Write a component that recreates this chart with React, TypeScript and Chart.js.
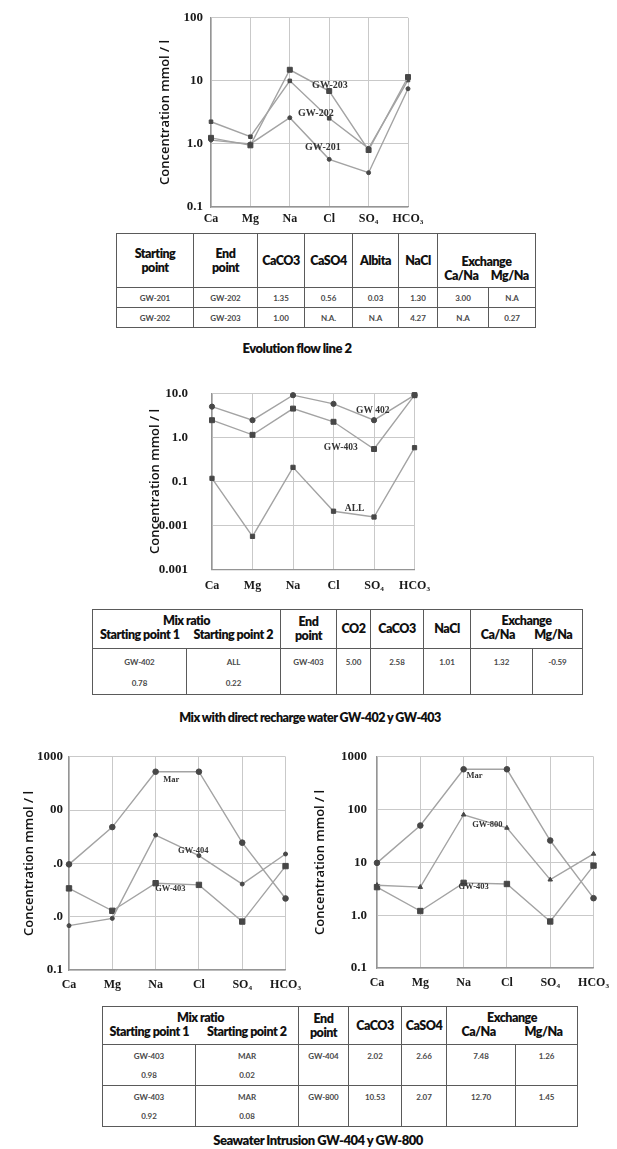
import React, { useEffect, useRef } from 'react';
import { Chart, registerables } from 'chart.js';
Chart.register(...registerables);

// ---------- data ----------
const IONS = ['Ca', 'Mg', 'Na', 'Cl', 'SO₄', 'HCO₃'];

// Evolution flow line 2
const GW203_A = [1.25, 0.95, 15, 6.9, 0.8, 11.5];
const GW202_A = [2.25, 1.3, 10, 2.55, 0.85, 10.3];
const GW201_A = [1.15, 1.0, 2.6, 0.57, 0.35, 7.5];
const TICKS_A = [0.1, 1, 10, 100];
const TICKTEXT_A = ['0.1', '1.0', '10', '100'];

// Mix with direct recharge water
const GW402_B = [5.1, 2.5, 9.3, 5.9, 2.5, 9.3];
const GW403_B = [2.5, 1.16, 4.6, 2.3, 0.55, 9.3];
const ALL_B = [0.118, 0.0056, 0.21, 0.021, 0.0155, 0.59];
const TICKS_B = [0.001, 0.01, 0.1, 1, 10];
const TICKTEXT_B = ['0.001', '0.001', '0.1', '1.0', '10.0'];

// Seawater intrusion GW-404
const MAR_C = [9.6, 48, 525, 525, 24.5, 2.2];
const GW404_C = [0.68, 0.93, 34, 14, 4.1, 15];
const GW403_C = [3.4, 1.29, 4.25, 3.95, 0.81, 8.9];
const TICKS_C = [0.1, 1, 10, 100, 1000];
const TICKTEXT_C = ['0.1', '.0', '.0', '00', '1000'];

// Seawater intrusion GW-800
const MAR_D = [9.8, 50, 580, 580, 26, 2.1];
const GW800_D = [3.7, 3.4, 80, 45, 4.7, 14.5];
const GW403_D = [3.4, 1.2, 4.1, 3.9, 0.76, 8.7];
const TICKS_D = [0.1, 1, 10, 100, 1000];
const TICKTEXT_D = ['0.1', '1.0', '10', '100', '1000'];

// tables
const T1_HEAD = ['Starting|point', 'End|point', 'CaCO3', 'CaSO4', 'Albita', 'NaCl'];
const T1_ROWS = [
  ['GW-201', 'GW-202', '1.35', '0.56', '0.03', '1.30', '3.00', 'N.A'],
  ['GW-202', 'GW-203', '1.00', 'N.A.', 'N.A', '4.27', 'N.A', '0.27'],
];
const T2_HEAD = ['End|point', 'CO2', 'CaCO3', 'NaCl'];
const T2_ROWS = [
  [['GW-402', '0.78'], ['ALL', '0.22'], ['GW-403'], ['5.00'], ['2.58'], ['1.01'], ['1.32'], ['-0.59']],
];
const T3_HEAD = ['End|point', 'CaCO3', 'CaSO4'];
const T3_ROWS = [
  [['GW-403', '0.98'], ['MAR', '0.02'], ['GW-404'], ['2.02'], ['2.66'], ['7.48'], ['1.26']],
  [['GW-403', '0.92'], ['MAR', '0.08'], ['GW-800'], ['10.53'], ['2.07'], ['12.70'], ['1.45']],
];

// ---------- styles ----------
const LINE = '#a3a3a3';
const MARK = '#474747';
const GRID = '#c9c9c9';
const AXIS = '#959595';
const SERIF = "'Liberation Serif', 'DejaVu Serif', serif";
const SANS = "'Open Sans', 'Noto Sans', sans-serif";
const TSANS = "Lato, 'Open Sans', sans-serif";

type Series = { data: number[]; style: string; radius: number };
type Note = { text: string; at: number; value: number };
type Props = {
  left: number; top: number; width: number; height: number;
  yW: number; padTop: number; padRight: number; xH: number; xPad: number; yPad: number;
  min: number; max: number; ticks: number[]; tickText: string[];
  series: Series[]; notes: Note[]; noteSize: number;
};

function LogChart(p: Props) {
  const ref = useRef<HTMLCanvasElement>(null);
  useEffect(() => {
    const notePlugin = {
      id: 'notes',
      afterDatasetsDraw(chart: any) {
        const ctx = chart.ctx;
        const xs = chart.scales.x;
        const ys = chart.scales.y;
        ctx.save();
        ctx.font = `bold ${p.noteSize}px ${SERIF}`;
        ctx.fillStyle = '#333';
        ctx.textAlign = 'center';
        ctx.textBaseline = 'middle';
        p.notes.forEach((n) => {
          ctx.fillText(n.text, xs.getPixelForValue(n.at), ys.getPixelForValue(n.value));
        });
        ctx.restore();
      },
    };
    const chart = new Chart(ref.current as HTMLCanvasElement, {
      type: 'line',
      data: {
        labels: IONS,
        datasets: p.series.map((s) => ({
          data: s.data,
          borderColor: LINE,
          borderWidth: 1.4,
          pointStyle: s.style as any,
          pointRadius: s.radius,
          pointBackgroundColor: MARK,
          pointBorderColor: MARK,
          pointBorderWidth: 1,
          tension: 0,
          clip: false as any,
        })),
      },
      options: {
        responsive: false,
        maintainAspectRatio: false,
        animation: false,
        layout: { padding: { top: p.padTop, right: p.padRight, left: 0, bottom: 0 } },
        plugins: { legend: { display: false }, tooltip: { enabled: false } },
        scales: {
          x: {
            type: 'category',
            offset: false,
            grid: { color: GRID, drawTicks: false, lineWidth: 1 },
            border: { color: AXIS, width: 1.3 },
            ticks: {
              padding: p.xPad,
              color: '#1a1a1a',
              autoSkip: false,
              maxRotation: 0,
              font: { family: SERIF, weight: 'bold', size: 12 },
            },
            afterFit: (s: any) => { s.height = p.xH; },
          },
          y: {
            type: 'logarithmic',
            min: p.min,
            max: p.max,
            afterBuildTicks: (s: any) => { s.ticks = p.ticks.map((v) => ({ value: v })); },
            grid: { color: GRID, drawTicks: false, lineWidth: 1 },
            border: { color: AXIS, width: 1.3 },
            ticks: {
              padding: p.yPad,
              color: '#1a1a1a',
              font: { family: SERIF, weight: 'bold', size: 13 },
              callback: (v: any) => {
                const i = p.ticks.findIndex((t) => Math.abs(t - Number(v)) < t * 1e-6);
                return i >= 0 ? p.tickText[i] : '';
              },
            },
            title: {
              display: true,
              text: 'Concentration mmol / l',
              color: '#111',
              font: { family: SANS, size: 13, weight: '600' },
              padding: { top: 12, bottom: 0 },
            },
            afterFit: (s: any) => { s.width = p.yW; },
          },
        },
      } as any,
      plugins: [notePlugin],
    });
    return () => chart.destroy();
  }, []);
  return (
    <canvas
      ref={ref}
      width={p.width}
      height={p.height}
      style={{ position: 'absolute', left: p.left, top: p.top, width: p.width, height: p.height }}
    />
  );
}

// ---------- tables ----------
const BORDER = '1.5px solid #5a5a5a';
const headFont: React.CSSProperties = {
  fontFamily: TSANS, fontWeight: 800, fontSize: 12.5, letterSpacing: -0.5, color: '#111', lineHeight: '14px',
};
const dataFont: React.CSSProperties = {
  fontFamily: TSANS, fontWeight: 700, fontSize: 8, color: '#4a4a4a', letterSpacing: -0.1,
};
const cell: React.CSSProperties = { border: BORDER, padding: 0, textAlign: 'center', overflow: 'hidden' };

function Lines({ text }: { text: string }) {
  const parts = text.split('|');
  return <>{parts.map((t, i) => <div key={i}>{t}</div>)}</>;
}

function Exchange({ top }: { top: number }) {
  return (
    <div style={{ paddingTop: top }}>
      <div>Exchange</div>
      <div style={{ display: 'flex', justifyContent: 'space-around' }}>
        <span>Ca/Na</span>
        <span>Mg/Na</span>
      </div>
    </div>
  );
}

function Table1() {
  const widths = [77, 64, 47, 48, 46, 39, 51, 47];
  return (
    <table style={{ position: 'absolute', left: 116, top: 233, borderCollapse: 'collapse', tableLayout: 'fixed', width: 419 }}>
      <colgroup>{widths.map((w, i) => <col key={i} style={{ width: w }} />)}</colgroup>
      <tbody>
        <tr style={{ height: 54 }}>
          {T1_HEAD.map((h, i) => (
            <td key={i} style={{ ...cell, ...headFont }}><Lines text={h} /></td>
          ))}
          <td colSpan={2} style={{ ...cell, ...headFont, verticalAlign: 'top' }}><Exchange top={21} /></td>
        </tr>
        {T1_ROWS.map((r, ri) => (
          <tr key={ri} style={{ height: 20 }}>
            {r.map((c, ci) => <td key={ci} style={{ ...cell, ...dataFont }}>{c}</td>)}
          </tr>
        ))}
      </tbody>
    </table>
  );
}

function MixHead({ w1, w2, top }: { w1: number; w2: number; top: number }) {
  return (
    <div style={{ paddingTop: top }}>
      <div>Mix ratio</div>
      <div style={{ display: 'flex' }}>
        <span style={{ width: w1, textAlign: 'center', whiteSpace: 'nowrap' }}>Starting point 1</span>
        <span style={{ width: w2, textAlign: 'center', whiteSpace: 'nowrap' }}>Starting point 2</span>
      </div>
    </div>
  );
}

function DataCell({ lines, pad, gap }: { lines: string[]; pad: number; gap: number }) {
  return (
    <td style={{ ...cell, ...dataFont, verticalAlign: 'top' }}>
      <div style={{ paddingTop: pad, lineHeight: `${gap}px` }}>
        {lines.map((l, i) => <div key={i}>{l}</div>)}
      </div>
    </td>
  );
}

function Table2() {
  const widths = [94, 94, 56, 34, 53, 47, 62, 50];
  return (
    <table style={{ position: 'absolute', left: 92, top: 609, borderCollapse: 'collapse', tableLayout: 'fixed', width: 490 }}>
      <colgroup>{widths.map((w, i) => <col key={i} style={{ width: w }} />)}</colgroup>
      <tbody>
        <tr style={{ height: 39 }}>
          <td colSpan={2} style={{ ...cell, ...headFont, verticalAlign: 'top' }}><MixHead w1={94} w2={94} top={4} /></td>
          {T2_HEAD.map((h, i) => (
            <td key={i} style={{ ...cell, ...headFont }}><Lines text={h} /></td>
          ))}
          <td colSpan={2} style={{ ...cell, ...headFont, verticalAlign: 'top' }}><Exchange top={4} /></td>
        </tr>
        {T2_ROWS.map((r, ri) => (
          <tr key={ri} style={{ height: 43 }}>
            {r.map((c, ci) => <DataCell key={ci} lines={c} pad={3} gap={21} />)}
          </tr>
        ))}
      </tbody>
    </table>
  );
}

function Table3() {
  const widths = [93, 103, 50, 53, 45, 69, 62];
  return (
    <table style={{ position: 'absolute', left: 102, top: 1006, borderCollapse: 'collapse', tableLayout: 'fixed', width: 475 }}>
      <colgroup>{widths.map((w, i) => <col key={i} style={{ width: w }} />)}</colgroup>
      <tbody>
        <tr style={{ height: 38 }}>
          <td colSpan={2} style={{ ...cell, ...headFont, verticalAlign: 'top' }}><MixHead w1={93} w2={103} top={4} /></td>
          {T3_HEAD.map((h, i) => (
            <td key={i} style={{ ...cell, ...headFont }}><Lines text={h} /></td>
          ))}
          <td colSpan={2} style={{ ...cell, ...headFont, verticalAlign: 'top' }}><Exchange top={4} /></td>
        </tr>
        {T3_ROWS.map((r, ri) => (
          <tr key={ri} style={{ height: 37 }}>
            {r.map((c, ci) => <DataCell key={ci} lines={c} pad={2} gap={19} />)}
          </tr>
        ))}
      </tbody>
    </table>
  );
}

function Caption({ text, cx, cy, size }: { text: string; cx: number; cy: number; size: number }) {
  return (
    <div style={{
      position: 'absolute', left: cx - 200, top: cy - 10, width: 400, height: 20, lineHeight: '20px',
      textAlign: 'center', fontFamily: TSANS, fontWeight: 800, fontSize: size, letterSpacing: -0.5, color: '#111',
      whiteSpace: 'nowrap',
    }}>{text}</div>
  );
}

export default function App() {
  return (
    <div style={{ position: 'absolute', left: 0, top: 0, width: 617, height: 1149, background: '#fff', overflow: 'hidden' }}>
      <LogChart
        left={145} top={2} width={288} height={227} yW={66} padTop={10} padRight={25} xH={22} xPad={5} yPad={8}
        min={0.1} max={100} ticks={TICKS_A} tickText={TICKTEXT_A}
        series={[
          { data: GW203_A, style: 'rect', radius: 3.5 },
          { data: GW202_A, style: 'rect', radius: 2.5 },
          { data: GW201_A, style: 'circle', radius: 2 },
        ]}
        notes={[
          { text: 'GW-203', at: 3.02, value: 8.4 },
          { text: 'GW-202', at: 2.66, value: 3.1 },
          { text: 'GW-201', at: 2.84, value: 0.87 },
        ]}
        noteSize={10}
      />
      <Table1 />
      <Caption text="Evolution flow line 2" cx={297} cy={348} size={13} />

      <LogChart
        left={135} top={362} width={305} height={239} yW={77} padTop={10} padRight={25} xH={24} xPad={10} yPad={24}
        min={0.001} max={10} ticks={TICKS_B} tickText={TICKTEXT_B}
        series={[
          { data: GW402_B, style: 'circle', radius: 2.6 },
          { data: GW403_B, style: 'rect', radius: 3.5 },
          { data: ALL_B, style: 'rect', radius: 3 },
        ]}
        notes={[
          { text: 'GW 402', at: 3.97, value: 4.06 },
          { text: 'GW-403', at: 3.18, value: 0.61 },
          { text: 'ALL', at: 3.52, value: 0.0236 },
        ]}
        noteSize={9.5}
      />
      <Table2 />
      <Caption text="Mix with direct recharge water GW-402 y GW-403" cx={310} cy={718} size={12.5} />

      <LogChart
        left={9} top={743} width={300} height={253} yW={60} padTop={10} padRight={22} xH={26} xPad={8} yPad={6}
        min={0.1} max={1000} ticks={TICKS_C} tickText={TICKTEXT_C}
        series={[
          { data: MAR_C, style: 'circle', radius: 2.8 },
          { data: GW404_C, style: 'circle', radius: 2 },
          { data: GW403_C, style: 'rect', radius: 3.8 },
        ]}
        notes={[
          { text: 'Mar', at: 2.36, value: 370 },
          { text: 'GW-404', at: 2.87, value: 17 },
          { text: 'GW-403', at: 2.34, value: 3.3 },
        ]}
        noteSize={8.5}
      />
      <LogChart
        left={300} top={739} width={317} height={255} yW={77} padTop={10} padRight={20} xH={26} xPad={8} yPad={10}
        min={0.1} max={1000} ticks={TICKS_D} tickText={TICKTEXT_D}
        series={[
          { data: MAR_D, style: 'circle', radius: 2.8 },
          { data: GW800_D, style: 'triangle', radius: 2.6 },
          { data: GW403_D, style: 'rect', radius: 3.8 },
        ]}
        notes={[
          { text: 'Mar', at: 2.25, value: 445 },
          { text: 'GW-800', at: 2.55, value: 52 },
          { text: 'GW-403', at: 2.23, value: 3.4 },
        ]}
        noteSize={8.5}
      />
      <Table3 />
      <Caption text="Seawater Intrusion GW-404 y GW-800" cx={318} cy={1140} size={13} />
    </div>
  );
}
